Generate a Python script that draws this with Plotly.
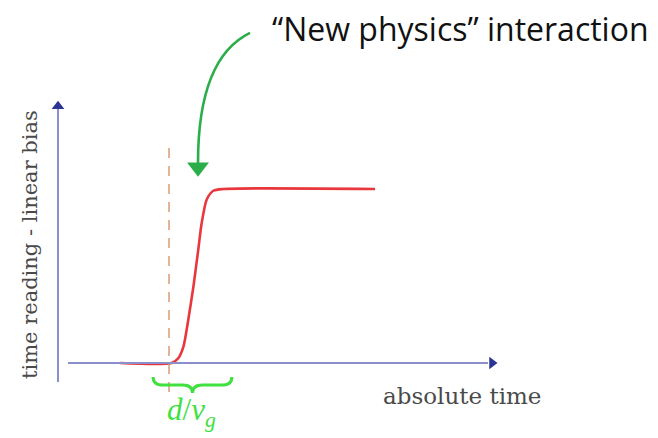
import plotly.graph_objects as go

# Detector response: time reading (minus linear bias) versus absolute time
time = [1.68, 3.07, 3.25, 3.39, 3.52, 3.66, 3.79, 3.88, 4.02, 4.20, 4.47, 8.57]
reading = [0.0, 0.0, 0.027, 0.094, 0.247, 0.44, 0.65, 0.80, 0.94, 0.99, 1.0, 1.0]

t_interaction = 3.0          # moment of the "new physics" interaction
delay_span = [2.57, 4.70]    # extent of the d/v_g delay bracket

axis_color = "#8a8fcc"
arrow_color = "#2b3593"
green_arrow = "#2bae4a"
brace_green = "#3fe03f"
label_gray = "#4a4a4a"

W, H = 658, 438
X_RANGE = [-58 / 37, (W - 58) / 37]
Y_RANGE = [(363 - H) / 174, 363 / 174]

fig = go.Figure()

# step response curve
fig.add_trace(go.Scatter(
    x=time, y=reading, mode="lines",
    line=dict(color="#e8373d", width=2.6, shape="spline", smoothing=0.7),
    hoverinfo="skip", showlegend=False,
))

# axis arrowheads
fig.add_trace(go.Scatter(
    x=[0], y=[1.475], mode="markers",
    marker=dict(symbol="triangle-up", size=11, color=arrow_color),
    hoverinfo="skip", showlegend=False,
))
fig.add_trace(go.Scatter(
    x=[11.73], y=[0], mode="markers",
    marker=dict(symbol="triangle-right", size=11, color=arrow_color),
    hoverinfo="skip", showlegend=False,
))

# head of the curved annotation arrow
fig.add_trace(go.Scatter(
    x=[3.784], y=[1.125], mode="markers",
    marker=dict(symbol="triangle-down", size=19, color=green_arrow),
    hoverinfo="skip", showlegend=False,
))

shapes = [
    # vertical axis
    dict(type="line", xref="x", yref="y", x0=0, x1=0, y0=-0.109, y1=1.46,
         line=dict(color=axis_color, width=2)),
    # horizontal axis
    dict(type="line", xref="x", yref="y", x0=0.27, x1=11.62, y0=0, y1=0,
         line=dict(color=axis_color, width=2)),
    # interaction time marker
    dict(type="line", xref="x", yref="y", x0=t_interaction, x1=t_interaction,
         y0=-0.167, y1=1.236,
         line=dict(color="#d8946a", width=1.4, dash="10px,8px")),
    # curved arrow body
    dict(type="path", xref="x", yref="y",
         path="M 5.189,1.897 C 4.243,1.799 3.784,1.540 3.784,1.15",
         line=dict(color=green_arrow, width=2.6)),
]

# curly brace under the delay
x0, x1 = delay_span
xm = (x0 + x1) / 2
d = 0.27
shapes.append(dict(
    type="path", xref="x", yref="y",
    path=(f"M {x0},-0.08 Q {x0},-0.1264 {x0 + d},-0.1264 "
          f"L {xm - d},-0.1264 Q {xm},-0.1264 {xm},-0.1724 "
          f"Q {xm},-0.1264 {xm + d},-0.1264 "
          f"L {x1 - d},-0.1264 Q {x1},-0.1264 {x1},-0.08"),
    line=dict(color=brace_green, width=3),
))

annotations = [
    dict(text="\u201cNew physics\u201d interaction", xref="paper", yref="paper",
         x=270 / W, y=1 - 28 / H, xanchor="left", yanchor="middle",
         showarrow=False, font=dict(family="Open Sans", size=32, color="#111111")),
    dict(text="absolute time", xref="paper", yref="paper",
         x=381 / W, y=1 - 396 / H, xanchor="left", yanchor="middle",
         showarrow=False, font=dict(family="DejaVu Serif", size=23, color=label_gray)),
    dict(text="time reading - linear bias", xref="paper", yref="paper",
         x=30 / W, y=1 - 245 / H, xanchor="center", yanchor="middle",
         textangle=-90, showarrow=False,
         font=dict(family="DejaVu Serif", size=21, color=label_gray)),
    dict(text="<i>d</i>/<i>v<sub>g</sub></i>", xref="paper", yref="paper",
         x=191 / W, y=1 - 412 / H, xanchor="center", yanchor="middle",
         showarrow=False, font=dict(family="Liberation Serif", size=31, color=brace_green)),
]

fig.update_layout(
    width=W, height=H,
    margin=dict(l=0, r=0, t=0, b=0),
    paper_bgcolor="white", plot_bgcolor="white",
    xaxis=dict(range=X_RANGE, visible=False, fixedrange=True),
    yaxis=dict(range=Y_RANGE, visible=False, fixedrange=True),
    shapes=shapes, annotations=annotations,
    showlegend=False,
)

fig.write_html("out.html", config={"displayModeBar": False})
